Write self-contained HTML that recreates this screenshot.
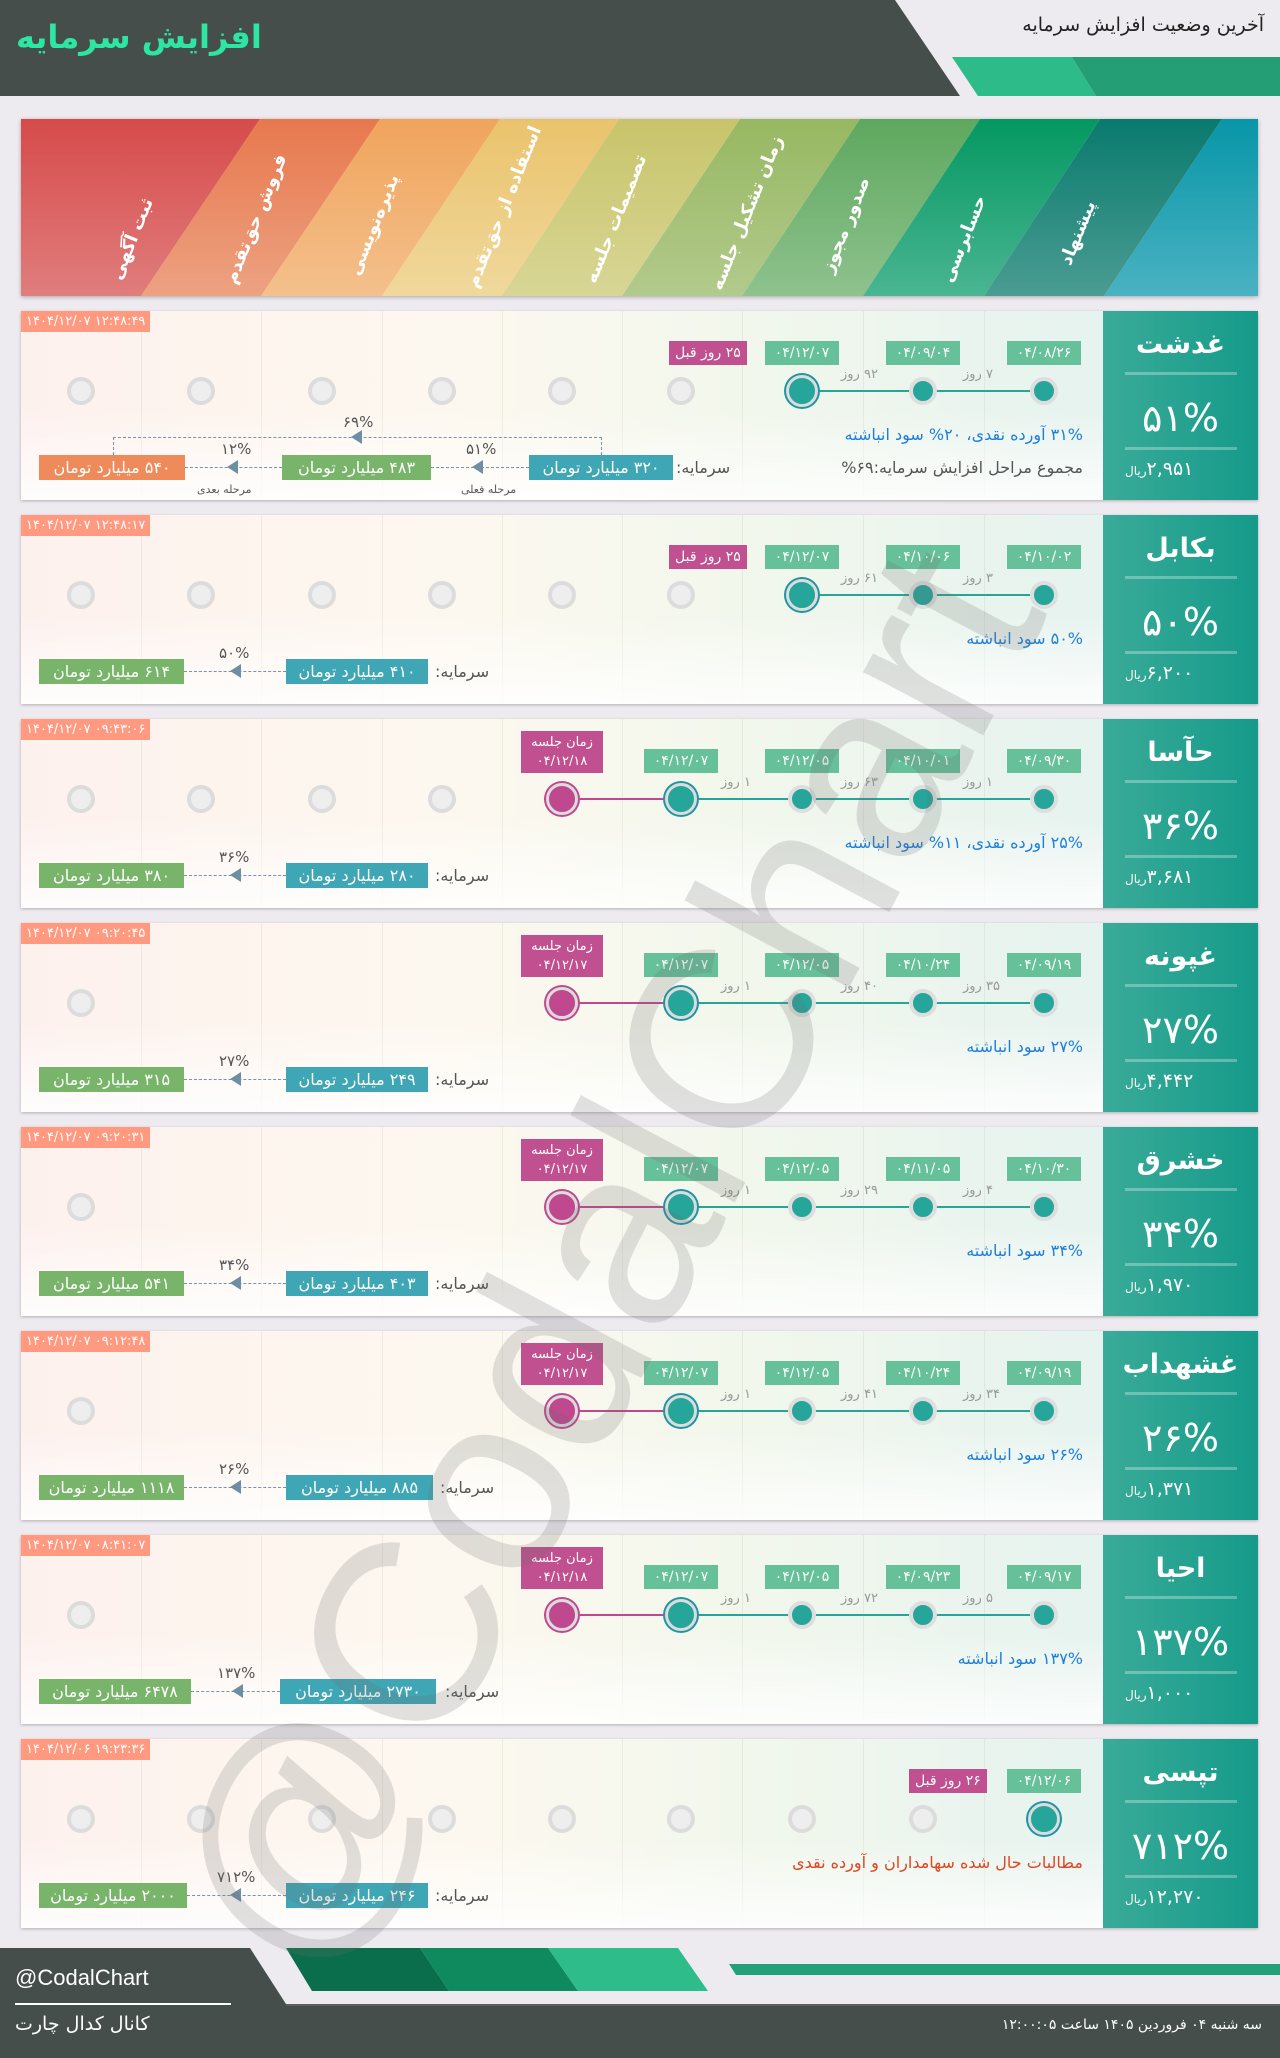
<!DOCTYPE html>
<html><head><meta charset="utf-8"><style>
*{margin:0;padding:0;box-sizing:border-box}
body{width:1280px;height:2058px;background:#eeebf0;position:relative;overflow:hidden;font-family:"DejaVu Sans","Liberation Sans",sans-serif}
.a{position:absolute}
.row{position:absolute;left:21px;width:1237px;height:189px;background:linear-gradient(to right,#fdf1ee 0%,#fdf8ef 35%,#f1f7ec 60%,#e7f3ef 85%,#e9f3f3 100%);box-shadow:0 1px 3px rgba(0,0,0,.25)}
.row:after{content:"";position:absolute;left:0;right:155px;bottom:0;height:90px;background:linear-gradient(rgba(255,255,255,0),rgba(255,255,255,.85))}
.vl{position:absolute;top:0;height:189px;width:1px;background:rgba(0,0,0,.05)}
.pan{position:absolute;right:0;top:0;width:155px;height:189px;background:linear-gradient(to right,#3aab98,#159a8a);color:#fff;text-align:center;z-index:2}
.pan .n{position:absolute;top:18px;width:100%;font-size:27px;font-weight:bold}
.pan .h{position:absolute;left:22px;width:112px;height:3px;background:rgba(255,255,255,.3)}
.pan .p{position:absolute;top:85px;width:100%;font-size:38px}
.pan .r{position:absolute;top:147px;left:22px;font-size:19px;direction:rtl}
.ts{position:absolute;left:0;top:0;height:21px;padding:0 5px;background:#ff9a80;color:#fff;font-size:13px;line-height:21px;z-index:2}
.c{position:absolute;top:66px;width:28px;height:28px;border-radius:50%;background:#eeeeee;border:4px solid #dcdcdc;z-index:2}
.c.t{background:#26a69a;border-color:#dedede}
.c.b{top:64px;width:32px;height:32px;background:#26a69a;border:3px solid #dcdcdc;box-shadow:0 0 0 2px #1d95a3}
.c.pk{top:64px;width:32px;height:32px;background:#c0488e;border:3px solid #dcdcdc;box-shadow:0 0 0 2px #c0488e}
.ln{position:absolute;top:79px;height:2px;background:#26a69a;z-index:1}
.tg{position:absolute;top:30px;width:74px;height:24px;line-height:24px;background:#66c09a;color:#fff;font-size:14px;text-align:center;z-index:2}
.pt{position:absolute;top:12px;width:82px;height:42px;background:#c0508f;color:#fff;font-size:13px;text-align:center;line-height:19px;padding-top:2px;z-index:2}
.pb{position:absolute;top:30px;height:24px;line-height:24px;padding:0 6px;background:#c0508f;color:#fff;font-size:14px;z-index:2;direction:rtl}
.d{position:absolute;top:56px;font-size:13px;color:#999;direction:rtl;z-index:2}
.tx{position:absolute;right:175px;top:114px;font-size:16px;color:#1e7fd8;direction:rtl;z-index:3}
.cap{position:absolute;top:144px;height:25px;line-height:25px;color:#fff;font-size:16px;text-align:center;direction:rtl;z-index:3}
.tl{background:#3ea6b5}.gr{background:#78b46a}.or{background:#ef8a5a}
.sl{position:absolute;top:147px;font-size:16px;color:#555;direction:rtl;z-index:3}
.dl{position:absolute;top:156px;border-top:1px dashed #7a93a8;z-index:3}
.ar{position:absolute;top:149px;width:0;height:0;border-top:7px solid transparent;border-bottom:7px solid transparent;border-right:11px solid #6e8ea3;z-index:3}
.pl{position:absolute;top:129px;font-size:15px;color:#555;z-index:3}
.sm{position:absolute;top:172px;font-size:11px;color:#555;direction:rtl;z-index:3}
</style></head><body>

<!-- header -->
<svg class="a" style="left:0;top:0" width="1280" height="100">
<polygon points="0,0 895,0 960,96 0,96" fill="#454e4a"/>
<polygon points="952,57 1072,57 1096,96 978,96" fill="#2dbb8a"/>
<polygon points="1072,57 1280,57 1280,96 1096,96" fill="#249e75"/>
</svg>
<div class="a" style="left:16px;top:18px;font-size:32px;font-weight:bold;color:#2ee6a4;direction:rtl">افزایش سرمایه</div>
<div class="a" style="right:16px;top:14px;font-size:19px;color:#222;direction:rtl">آخرین وضعیت افزایش سرمایه</div>

<!-- banner -->
<svg class="a" style="left:21px;top:119px;box-shadow:0 1px 4px rgba(0,0,0,.3)" width="1237" height="177">
<defs>
<linearGradient id="g1" x1="0" y1="0" x2="0" y2="1"><stop offset="0" stop-color="#d64b4a"/><stop offset="1" stop-color="#e07d7d"/></linearGradient>
<linearGradient id="g2" x1="0" y1="0" x2="0" y2="1"><stop offset="0" stop-color="#e7784d"/><stop offset="1" stop-color="#eda282"/></linearGradient>
<linearGradient id="g3" x1="0" y1="0" x2="0" y2="1"><stop offset="0" stop-color="#f0a45c"/><stop offset="1" stop-color="#f4c08c"/></linearGradient>
<linearGradient id="g4" x1="0" y1="0" x2="0" y2="1"><stop offset="0" stop-color="#eac36c"/><stop offset="1" stop-color="#f0d89c"/></linearGradient>
<linearGradient id="g5" x1="0" y1="0" x2="0" y2="1"><stop offset="0" stop-color="#c8c46a"/><stop offset="1" stop-color="#d8d696"/></linearGradient>
<linearGradient id="g6" x1="0" y1="0" x2="0" y2="1"><stop offset="0" stop-color="#97b862"/><stop offset="1" stop-color="#b2ca8c"/></linearGradient>
<linearGradient id="g7" x1="0" y1="0" x2="0" y2="1"><stop offset="0" stop-color="#5ea85e"/><stop offset="1" stop-color="#8ec28e"/></linearGradient>
<linearGradient id="g8" x1="0" y1="0" x2="0" y2="1"><stop offset="0" stop-color="#049862"/><stop offset="1" stop-color="#4ab592"/></linearGradient>
<linearGradient id="g9" x1="0" y1="0" x2="0" y2="1"><stop offset="0" stop-color="#0a7a6e"/><stop offset="1" stop-color="#4a9c92"/></linearGradient>
<linearGradient id="g10" x1="0" y1="0" x2="0" y2="1"><stop offset="0" stop-color="#0796a8"/><stop offset="1" stop-color="#4ab2c2"/></linearGradient>
</defs>
<polygon points="0,0 239,0 120,177 0,177" fill="url(#g1)"/>
<polygon points="239,0 359,0 240,177 120,177" fill="url(#g2)"/>
<polygon points="359,0 479,0 361,177 240,177" fill="url(#g3)"/>
<polygon points="479,0 598,0 481,177 361,177" fill="url(#g4)"/>
<polygon points="598,0 719,0 601,177 481,177" fill="url(#g5)"/>
<polygon points="719,0 839,0 721,177 601,177" fill="url(#g6)"/>
<polygon points="839,0 959,0 842,177 721,177" fill="url(#g7)"/>
<polygon points="959,0 1079,0 963,177 842,177" fill="url(#g8)"/>
<polygon points="1079,0 1201,0 1083,177 963,177" fill="url(#g9)"/>
<polygon points="1201,0 1237,0 1237,177 1083,177" fill="url(#g10)"/>
<g fill="#fff" font-family="DejaVu Sans" font-weight="bold" font-size="18" text-anchor="middle">
<text transform="translate(116,122) rotate(-68)" direction="rtl">ثبت آگهی</text>
<text transform="translate(240,102) rotate(-68)" direction="rtl">فروش حق‌تقدم</text>
<text transform="translate(358,108) rotate(-68)" direction="rtl">پذیره‌نویسی</text>
<text transform="translate(488,90) rotate(-68)" direction="rtl">استفاده از حق‌تقدم</text>
<text transform="translate(600,102) rotate(-68)" direction="rtl">تصمیمات جلسه</text>
<text transform="translate(731,96) rotate(-68)" direction="rtl">زمان تشکیل جلسه</text>
<text transform="translate(830,108) rotate(-68)" direction="rtl">صدور مجوز</text>
<text transform="translate(948,122) rotate(-68)" direction="rtl">حسابرسی</text>
<text transform="translate(1062,116) rotate(-68)" direction="rtl">پیشنهاد</text>
</g>
</svg>

<!-- ROW 1 -->
<div class="row" style="top:311px">
<div class="vl" style="left:120px"></div><div class="vl" style="left:240px"></div><div class="vl" style="left:361px"></div><div class="vl" style="left:481px"></div><div class="vl" style="left:601px"></div><div class="vl" style="left:721px"></div><div class="vl" style="left:842px"></div><div class="vl" style="left:963px"></div>
<div class="ts">۱۴۰۴/۱۲/۰۷ ۱۲:۴۸:۴۹</div>
<div class="c" style="left:46px"></div><div class="c" style="left:166px"></div><div class="c" style="left:287px"></div><div class="c" style="left:407px"></div><div class="c" style="left:527px"></div><div class="c" style="left:646px"></div>
<div class="ln" style="left:781px;width:242px"></div>
<div class="c b" style="left:765px"></div><div class="c t" style="left:888px"></div><div class="c t" style="left:1009px"></div>
<div class="tg" style="left:744px">۰۴/۱۲/۰۷</div><div class="tg" style="left:865px">۰۴/۰۹/۰۴</div><div class="tg" style="left:986px">۰۴/۰۸/۲۶</div>
<div class="pb" style="left:648px">۲۵ روز قبل</div>
<div class="d" style="left:820px">۹۲ روز</div><div class="d" style="left:942px">۷ روز</div>
<div class="tx">۳۱% آورده نقدی، ۲۰% سود انباشته</div>
<div class="sl" style="right:175px;color:#555">مجموع مراحل افزایش سرمایه:۶۹%</div>
<div class="sl" style="left:655px">سرمایه:</div>
<div class="cap tl" style="left:508px;width:144px">۳۲۰ میلیارد تومان</div>
<div class="cap gr" style="left:261px;width:149px">۴۸۳ میلیارد تومان</div>
<div class="cap or" style="left:18px;width:146px">۵۴۰ میلیارد تومان</div>
<div class="dl" style="left:410px;width:98px"></div><div class="ar" style="left:451px"></div><div class="pl" style="left:445px">۵۱%</div><div class="sm" style="left:440px">مرحله فعلی</div>
<div class="dl" style="left:164px;width:97px"></div><div class="ar" style="left:206px"></div><div class="pl" style="left:200px">۱۲%</div><div class="sm" style="left:176px">مرحله بعدی</div>
<div class="a" style="left:92px;top:126px;width:489px;height:18px;border:1px dashed #7a93a8;border-bottom:none;z-index:3"></div>
<div class="ar" style="left:330px;top:119px"></div><div class="pl" style="left:322px;top:102px">۶۹%</div>
<div class="pan"><div class="n">غدشت</div><div class="h" style="top:61px"></div><div class="p">۵۱%</div><div class="h" style="top:136px"></div><div class="r">۲,۹۵۱<span style="font-size:12px">ریال</span></div></div>
</div>

<!-- ROW 2 -->
<div class="row" style="top:515px">
<div class="vl" style="left:120px"></div><div class="vl" style="left:240px"></div><div class="vl" style="left:361px"></div><div class="vl" style="left:481px"></div><div class="vl" style="left:601px"></div><div class="vl" style="left:721px"></div><div class="vl" style="left:842px"></div><div class="vl" style="left:963px"></div>
<div class="ts">۱۴۰۴/۱۲/۰۷ ۱۲:۴۸:۱۷</div>
<div class="c" style="left:46px"></div><div class="c" style="left:166px"></div><div class="c" style="left:287px"></div><div class="c" style="left:407px"></div><div class="c" style="left:527px"></div><div class="c" style="left:646px"></div>
<div class="ln" style="left:781px;width:242px"></div>
<div class="c b" style="left:765px"></div><div class="c t" style="left:888px"></div><div class="c t" style="left:1009px"></div>
<div class="tg" style="left:744px">۰۴/۱۲/۰۷</div><div class="tg" style="left:865px">۰۴/۱۰/۰۶</div><div class="tg" style="left:986px">۰۴/۱۰/۰۲</div>
<div class="pb" style="left:648px">۲۵ روز قبل</div>
<div class="d" style="left:820px">۶۱ روز</div><div class="d" style="left:942px">۳ روز</div>
<div class="tx">۵۰% سود انباشته</div>
<div class="sl" style="left:414px">سرمایه:</div>
<div class="cap tl" style="left:265px;width:142px">۴۱۰ میلیارد تومان</div>
<div class="cap gr" style="left:18px;width:145px">۶۱۴ میلیارد تومان</div>
<div class="dl" style="left:163px;width:102px"></div><div class="ar" style="left:209px"></div><div class="pl" style="left:198px">۵۰%</div>
<div class="pan"><div class="n">بکابل</div><div class="h" style="top:61px"></div><div class="p">۵۰%</div><div class="h" style="top:136px"></div><div class="r">۶,۲۰۰<span style="font-size:12px">ریال</span></div></div>
</div>

<!-- ROW 3 -->
<div class="row" style="top:719px">
<div class="vl" style="left:120px"></div><div class="vl" style="left:240px"></div><div class="vl" style="left:361px"></div><div class="vl" style="left:481px"></div><div class="vl" style="left:601px"></div><div class="vl" style="left:721px"></div><div class="vl" style="left:842px"></div><div class="vl" style="left:963px"></div>
<div class="ts">۱۴۰۴/۱۲/۰۷ ۰۹:۴۳:۰۶</div>
<div class="c" style="left:46px"></div><div class="c" style="left:166px"></div><div class="c" style="left:287px"></div><div class="c" style="left:407px"></div>
<div class="ln" style="left:541px;width:119px;background:#c0488e"></div>
<div class="ln" style="left:660px;width:363px"></div>
<div class="c pk" style="left:525px"></div><div class="c b" style="left:644px"></div><div class="c t" style="left:767px"></div><div class="c t" style="left:888px"></div><div class="c t" style="left:1009px"></div>
<div class="pt" style="left:500px">زمان جلسه<br>۰۴/۱۲/۱۸</div>
<div class="tg" style="left:623px">۰۴/۱۲/۰۷</div><div class="tg" style="left:744px">۰۴/۱۲/۰۵</div><div class="tg" style="left:865px">۰۴/۱۰/۰۱</div><div class="tg" style="left:986px">۰۴/۰۹/۳۰</div>
<div class="d" style="left:700px">۱ روز</div><div class="d" style="left:820px">۶۳ روز</div><div class="d" style="left:942px">۱ روز</div>
<div class="tx">۲۵% آورده نقدی، ۱۱% سود انباشته</div>
<div class="sl" style="left:414px">سرمایه:</div>
<div class="cap tl" style="left:265px;width:142px">۲۸۰ میلیارد تومان</div>
<div class="cap gr" style="left:18px;width:145px">۳۸۰ میلیارد تومان</div>
<div class="dl" style="left:163px;width:102px"></div><div class="ar" style="left:209px"></div><div class="pl" style="left:198px">۳۶%</div>
<div class="pan"><div class="n">حآسا</div><div class="h" style="top:61px"></div><div class="p">۳۶%</div><div class="h" style="top:136px"></div><div class="r">۳,۶۸۱<span style="font-size:12px">ریال</span></div></div>
</div>

<!-- ROW 4 -->
<div class="row" style="top:923px">
<div class="vl" style="left:120px"></div><div class="vl" style="left:240px"></div><div class="vl" style="left:361px"></div><div class="vl" style="left:481px"></div><div class="vl" style="left:601px"></div><div class="vl" style="left:721px"></div><div class="vl" style="left:842px"></div><div class="vl" style="left:963px"></div>
<div class="ts">۱۴۰۴/۱۲/۰۷ ۰۹:۲۰:۴۵</div>
<div class="c" style="left:46px"></div>
<div class="ln" style="left:541px;width:119px;background:#c0488e"></div>
<div class="ln" style="left:660px;width:363px"></div>
<div class="c pk" style="left:525px"></div><div class="c b" style="left:644px"></div><div class="c t" style="left:767px"></div><div class="c t" style="left:888px"></div><div class="c t" style="left:1009px"></div>
<div class="pt" style="left:500px">زمان جلسه<br>۰۴/۱۲/۱۷</div>
<div class="tg" style="left:623px">۰۴/۱۲/۰۷</div><div class="tg" style="left:744px">۰۴/۱۲/۰۵</div><div class="tg" style="left:865px">۰۴/۱۰/۲۴</div><div class="tg" style="left:986px">۰۴/۰۹/۱۹</div>
<div class="d" style="left:700px">۱ روز</div><div class="d" style="left:820px">۴۰ روز</div><div class="d" style="left:942px">۳۵ روز</div>
<div class="tx">۲۷% سود انباشته</div>
<div class="sl" style="left:414px">سرمایه:</div>
<div class="cap tl" style="left:265px;width:142px">۲۴۹ میلیارد تومان</div>
<div class="cap gr" style="left:18px;width:145px">۳۱۵ میلیارد تومان</div>
<div class="dl" style="left:163px;width:102px"></div><div class="ar" style="left:209px"></div><div class="pl" style="left:198px">۲۷%</div>
<div class="pan"><div class="n">غپونه</div><div class="h" style="top:61px"></div><div class="p">۲۷%</div><div class="h" style="top:136px"></div><div class="r">۴,۴۴۲<span style="font-size:12px">ریال</span></div></div>
</div>

<!-- ROW 5 -->
<div class="row" style="top:1127px">
<div class="vl" style="left:120px"></div><div class="vl" style="left:240px"></div><div class="vl" style="left:361px"></div><div class="vl" style="left:481px"></div><div class="vl" style="left:601px"></div><div class="vl" style="left:721px"></div><div class="vl" style="left:842px"></div><div class="vl" style="left:963px"></div>
<div class="ts">۱۴۰۴/۱۲/۰۷ ۰۹:۲۰:۳۱</div>
<div class="c" style="left:46px"></div>
<div class="ln" style="left:541px;width:119px;background:#c0488e"></div>
<div class="ln" style="left:660px;width:363px"></div>
<div class="c pk" style="left:525px"></div><div class="c b" style="left:644px"></div><div class="c t" style="left:767px"></div><div class="c t" style="left:888px"></div><div class="c t" style="left:1009px"></div>
<div class="pt" style="left:500px">زمان جلسه<br>۰۴/۱۲/۱۷</div>
<div class="tg" style="left:623px">۰۴/۱۲/۰۷</div><div class="tg" style="left:744px">۰۴/۱۲/۰۵</div><div class="tg" style="left:865px">۰۴/۱۱/۰۵</div><div class="tg" style="left:986px">۰۴/۱۰/۳۰</div>
<div class="d" style="left:700px">۱ روز</div><div class="d" style="left:820px">۲۹ روز</div><div class="d" style="left:942px">۴ روز</div>
<div class="tx">۳۴% سود انباشته</div>
<div class="sl" style="left:414px">سرمایه:</div>
<div class="cap tl" style="left:265px;width:142px">۴۰۳ میلیارد تومان</div>
<div class="cap gr" style="left:18px;width:145px">۵۴۱ میلیارد تومان</div>
<div class="dl" style="left:163px;width:102px"></div><div class="ar" style="left:209px"></div><div class="pl" style="left:198px">۳۴%</div>
<div class="pan"><div class="n">خشرق</div><div class="h" style="top:61px"></div><div class="p">۳۴%</div><div class="h" style="top:136px"></div><div class="r">۱,۹۷۰<span style="font-size:12px">ریال</span></div></div>
</div>

<!-- ROW 6 -->
<div class="row" style="top:1331px">
<div class="vl" style="left:120px"></div><div class="vl" style="left:240px"></div><div class="vl" style="left:361px"></div><div class="vl" style="left:481px"></div><div class="vl" style="left:601px"></div><div class="vl" style="left:721px"></div><div class="vl" style="left:842px"></div><div class="vl" style="left:963px"></div>
<div class="ts">۱۴۰۴/۱۲/۰۷ ۰۹:۱۲:۴۸</div>
<div class="c" style="left:46px"></div>
<div class="ln" style="left:541px;width:119px;background:#c0488e"></div>
<div class="ln" style="left:660px;width:363px"></div>
<div class="c pk" style="left:525px"></div><div class="c b" style="left:644px"></div><div class="c t" style="left:767px"></div><div class="c t" style="left:888px"></div><div class="c t" style="left:1009px"></div>
<div class="pt" style="left:500px">زمان جلسه<br>۰۴/۱۲/۱۷</div>
<div class="tg" style="left:623px">۰۴/۱۲/۰۷</div><div class="tg" style="left:744px">۰۴/۱۲/۰۵</div><div class="tg" style="left:865px">۰۴/۱۰/۲۴</div><div class="tg" style="left:986px">۰۴/۰۹/۱۹</div>
<div class="d" style="left:700px">۱ روز</div><div class="d" style="left:820px">۴۱ روز</div><div class="d" style="left:942px">۳۴ روز</div>
<div class="tx">۲۶% سود انباشته</div>
<div class="sl" style="left:419px">سرمایه:</div>
<div class="cap tl" style="left:265px;width:147px">۸۸۵ میلیارد تومان</div>
<div class="cap gr" style="left:18px;width:145px">۱۱۱۸ میلیارد تومان</div>
<div class="dl" style="left:163px;width:102px"></div><div class="ar" style="left:209px"></div><div class="pl" style="left:198px">۲۶%</div>
<div class="pan"><div class="n">غشهداب</div><div class="h" style="top:61px"></div><div class="p">۲۶%</div><div class="h" style="top:136px"></div><div class="r">۱,۳۷۱<span style="font-size:12px">ریال</span></div></div>
</div>

<!-- ROW 7 -->
<div class="row" style="top:1535px">
<div class="vl" style="left:120px"></div><div class="vl" style="left:240px"></div><div class="vl" style="left:361px"></div><div class="vl" style="left:481px"></div><div class="vl" style="left:601px"></div><div class="vl" style="left:721px"></div><div class="vl" style="left:842px"></div><div class="vl" style="left:963px"></div>
<div class="ts">۱۴۰۴/۱۲/۰۷ ۰۸:۴۱:۰۷</div>
<div class="c" style="left:46px"></div>
<div class="ln" style="left:541px;width:119px;background:#c0488e"></div>
<div class="ln" style="left:660px;width:363px"></div>
<div class="c pk" style="left:525px"></div><div class="c b" style="left:644px"></div><div class="c t" style="left:767px"></div><div class="c t" style="left:888px"></div><div class="c t" style="left:1009px"></div>
<div class="pt" style="left:500px">زمان جلسه<br>۰۴/۱۲/۱۸</div>
<div class="tg" style="left:623px">۰۴/۱۲/۰۷</div><div class="tg" style="left:744px">۰۴/۱۲/۰۵</div><div class="tg" style="left:865px">۰۴/۰۹/۲۳</div><div class="tg" style="left:986px">۰۴/۰۹/۱۷</div>
<div class="d" style="left:700px">۱ روز</div><div class="d" style="left:820px">۷۲ روز</div><div class="d" style="left:942px">۵ روز</div>
<div class="tx">۱۳۷% سود انباشته</div>
<div class="sl" style="left:424px">سرمایه:</div>
<div class="cap tl" style="left:259px;width:156px">۲۷۳۰ میلیارد تومان</div>
<div class="cap gr" style="left:18px;width:152px">۶۴۷۸ میلیارد تومان</div>
<div class="dl" style="left:170px;width:89px"></div><div class="ar" style="left:211px"></div><div class="pl" style="left:196px">۱۳۷%</div>
<div class="pan"><div class="n">احیا</div><div class="h" style="top:61px"></div><div class="p">۱۳۷%</div><div class="h" style="top:136px"></div><div class="r">۱,۰۰۰<span style="font-size:12px">ریال</span></div></div>
</div>

<!-- ROW 8 -->
<div class="row" style="top:1739px">
<div class="vl" style="left:120px"></div><div class="vl" style="left:240px"></div><div class="vl" style="left:361px"></div><div class="vl" style="left:481px"></div><div class="vl" style="left:601px"></div><div class="vl" style="left:721px"></div><div class="vl" style="left:842px"></div><div class="vl" style="left:963px"></div>
<div class="ts">۱۴۰۴/۱۲/۰۶ ۱۹:۲۳:۳۶</div>
<div class="c" style="left:46px"></div><div class="c" style="left:166px"></div><div class="c" style="left:287px"></div><div class="c" style="left:407px"></div><div class="c" style="left:527px"></div><div class="c" style="left:646px"></div><div class="c" style="left:767px"></div><div class="c" style="left:888px"></div>
<div class="c b" style="left:1007px"></div>
<div class="tg" style="left:986px">۰۴/۱۲/۰۶</div>
<div class="pb" style="left:888px">۲۶ روز قبل</div>
<div class="tx" style="color:#e0451f">مطالبات حال شده سهامداران و آورده نقدی</div>
<div class="sl" style="left:414px">سرمایه:</div>
<div class="cap tl" style="left:265px;width:142px">۲۴۶ میلیارد تومان</div>
<div class="cap gr" style="left:18px;width:148px">۲۰۰۰ میلیارد تومان</div>
<div class="dl" style="left:166px;width:99px"></div><div class="ar" style="left:209px"></div><div class="pl" style="left:196px">۷۱۲%</div>
<div class="pan"><div class="n">تپسی</div><div class="h" style="top:61px"></div><div class="p">۷۱۲%</div><div class="h" style="top:136px"></div><div class="r">۱۲,۲۷۰<span style="font-size:12px">ریال</span></div></div>
</div>

<!-- watermark -->
<div class="a" style="left:604px;top:1260px;transform:translate(-50%,-50%) rotate(-62deg);font-size:257px;color:rgba(110,110,110,.2);white-space:nowrap;z-index:5;font-family:'Liberation Sans',sans-serif">@CodalChart</div>

<!-- footer -->
<svg class="a" style="left:0;top:1948px" width="1280" height="110">
<rect x="0" y="56" width="1280" height="54" fill="#454e4a"/>
<polygon points="0,0 250,0 286,56 286,58 0,58" fill="#454e4a"/>
<rect x="286" y="56" width="994" height="2" fill="#5a625f"/>
<polygon points="286,0 420,0 449,43 312,43" fill="#0a6e4c"/>
<polygon points="420,0 548,0 578,43 449,43" fill="#0e8a5e"/>
<polygon points="548,0 678,0 708,43 578,43" fill="#2ebc8a"/>
<polygon points="729,16 1280,16 1280,27 736,27" fill="#22a077"/>
</svg>
<div class="a" style="left:15px;top:1965px;font-size:22px;color:#fff;font-family:'Liberation Sans',sans-serif">@CodalChart</div>
<div class="a" style="left:15px;top:2003px;width:216px;height:2px;background:#fff"></div>
<div class="a" style="left:15px;top:2013px;font-size:19px;color:#fff;direction:rtl">کانال کدال چارت</div>
<div class="a" style="right:18px;top:2017px;font-size:14px;color:#fff;direction:rtl">سه شنبه ۰۴ فروردین ۱۴۰۵ ساعت ۱۲:۰۰:۰۵</div>
</body></html>
